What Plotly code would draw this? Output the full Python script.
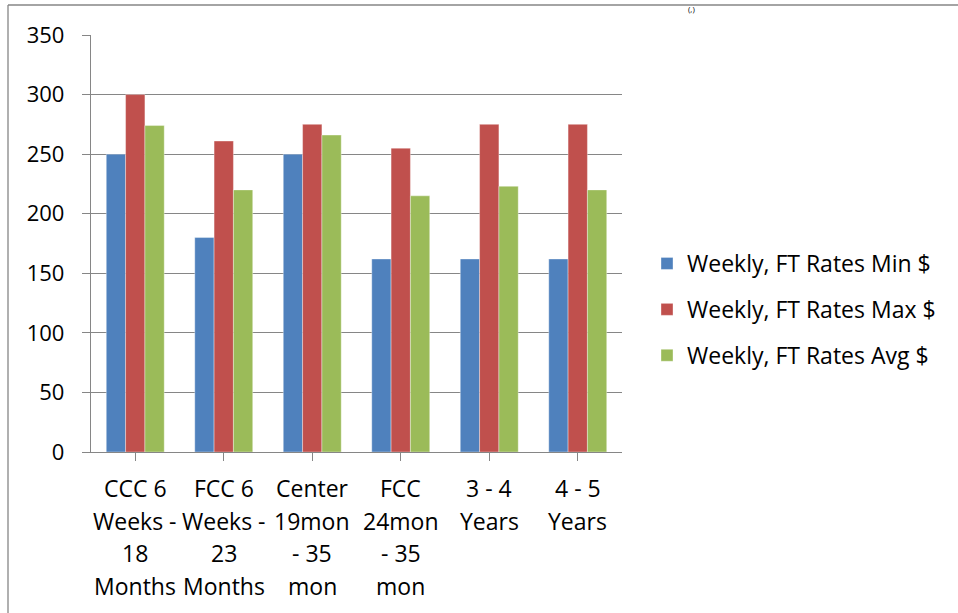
import plotly.graph_objects as go

categories = [
    "CCC 6<br>Weeks -<br>18<br>Months",
    "FCC 6<br>Weeks -<br>23<br>Months",
    "Center<br>19mon<br>- 35<br>mon",
    "FCC<br>24mon<br>- 35<br>mon",
    "3 - 4<br>Years",
    "4 - 5<br>Years",
]
series_names = ["Weekly, FT Rates Min $", "Weekly, FT Rates Max $", "Weekly, FT Rates Avg $"]
min_vals = [250, 180, 250, 162, 162, 162]
max_vals = [300, 261, 275, 255, 275, 275]
avg_vals = [274, 220, 266, 215, 223, 220]
y_ticks = [0, 50, 100, 150, 200, 250, 300, 350]

colors = ["#4F81BD", "#C0504D", "#9BBB59"]
FONT = "Open Sans"
GRID = "#868686"

W, H = 958, 613
ML, MR, MT, MB = 91, 336, 35, 161
PW, PH = W - ML - MR, H - MT - MB

def px_x(px):
    return (px - ML) / PW

def px_y(py):
    return (H - MB - py) / PH

fig = go.Figure()
for k, (name, vals, c) in enumerate(zip(series_names, [min_vals, max_vals, avg_vals], colors)):
    fig.add_trace(go.Bar(
        x=list(range(len(categories))), y=vals, name=name, legendgroup=f"g{k}",
        marker=dict(color=c, line=dict(color="rgba(255,255,255,0.6)", width=0.6)),
    ))

# category labels as annotations (per line, to match line spacing)
annotations = []
for i, lab in enumerate(categories):
    for j, line in enumerate(lab.split("<br>")):
        annotations.append(dict(
            x=i, xref="x", y=px_y(488 + j * 32.5), yref="paper",
            text=line, showarrow=False, xanchor="center", yanchor="middle",
            font=dict(family=FONT, size=23, color="#000000"),
        ))

# small text fragment at the top
annotations.append(dict(
    x=px_x(691), xref="paper", y=px_y(15), yref="paper", text="(,)",
    showarrow=False, xanchor="center", yanchor="bottom",
    font=dict(family=FONT, size=8, color="#000000"),
    borderpad=0,
))

fig.update_layout(
    width=W, height=H,
    margin=dict(l=ML, r=MR, t=MT, b=MB, pad=0, autoexpand=False),
    paper_bgcolor="white", plot_bgcolor="white",
    barmode="group", bargap=0.345, bargroupgap=0,
    font=dict(family=FONT, size=21, color="#000000"),
    showlegend=True,
    legend=dict(
        x=px_x(647), xanchor="left", y=px_y(242), yanchor="top",
        font=dict(family=FONT, size=23, color="#000000"),
        itemwidth=30, traceorder="grouped", tracegroupgap=13,
        bgcolor="rgba(0,0,0,0)",
    ),
    annotations=annotations,
    shapes=[
        dict(type="line", xref="paper", yref="paper",
             x0=px_x(8), x1=px_x(8), y0=px_y(620), y1=px_y(5),
             line=dict(color=GRID, width=1.3)),
        dict(type="line", xref="paper", yref="paper",
             x0=px_x(8), x1=px_x(960), y0=px_y(5), y1=px_y(5),
             line=dict(color=GRID, width=1.3)),
    ],
)

fig.update_xaxes(
    range=[-0.5, len(categories) - 0.5],
    showticklabels=False, tickmode="array", tickvals=list(range(len(categories))),
    ticks="outside", ticklen=8, tickwidth=1.3, tickcolor=GRID,
    tickson="boundaries",
    showline=True, linecolor=GRID, linewidth=1.3,
    showgrid=False, zeroline=False,
)
fig.update_yaxes(
    range=[0, 350], tickmode="array", tickvals=y_ticks,
    ticks="outside", ticklen=8, tickwidth=1.3, tickcolor=GRID,
    showline=True, linecolor=GRID, linewidth=1.3,
    showgrid=True, gridcolor=GRID, gridwidth=1.3,
    zeroline=False, ticklabelstandoff=13,
    tickfont=dict(family=FONT, size=22, color="#000000"),
)

fig.write_html("out.html", config={"displayModeBar": False},
               post_script="document.body.style.margin='0';")
